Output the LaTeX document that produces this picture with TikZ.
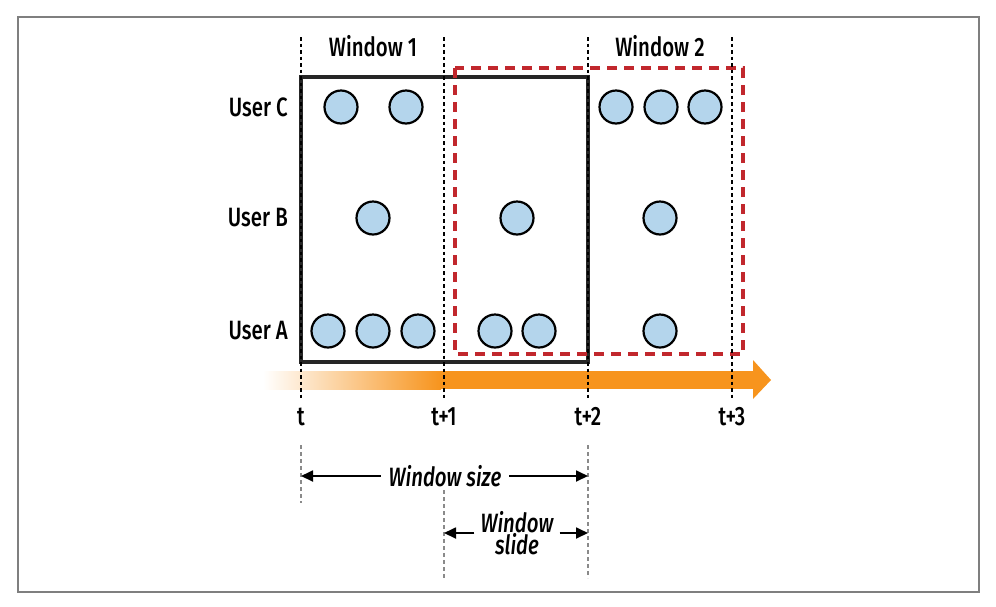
\documentclass[tikz,border=0pt]{standalone}
\usepackage{fontspec}
\setmainfont{Fira Sans Medium}[FakeStretch=0.77,ItalicFont={Fira Sans Medium Italic}]
\usetikzlibrary{arrows.meta}
\definecolor{evfill}{HTML}{B4D5EC}
\definecolor{winred}{HTML}{C1272D}
\definecolor{flow}{HTML}{F7941D}
\definecolor{framegrey}{HTML}{7F7F7F}
\definecolor{guidegrey}{HTML}{8A8A8A}
\begin{document}
\begin{tikzpicture}[x=1pt,y=-1pt,
  event/.style={circle,draw=black,fill=evfill,line width=2.2pt,minimum size=33pt,inner sep=0pt},
  lbl/.style={font=\fontsize{26.5}{28}\selectfont,inner sep=0pt},
  ilbl/.style={font=\fontsize{26.5}{22}\selectfont\itshape,inner sep=0pt,align=center},
  tick/.style={black,line width=2.6pt,dash pattern=on 3.5pt off 3pt},
  guide/.style={guidegrey,line width=1.2pt,dash pattern=on 4pt off 3pt},
  dim/.style={line width=1.8pt,-{Triangle[length=12pt,width=11pt]}}
]
\useasboundingbox (0,0) rectangle (996,606);
\draw[framegrey,line width=1.6pt] (18,17) rectangle (979,592);

% time flow arrow
\shade[left color=white,right color=flow] (263,371) rectangle (441,389);
\fill[flow] (440,371) rectangle (754,389);
\fill[flow] (753,360) -- (771,380) -- (753,399) -- cycle;

% windows
\draw[black!85,line width=4.5pt] (301,77) rectangle (588,362);
\draw[winred,line width=3.2pt,dash pattern=on 10pt off 7pt] (455,68) rectangle (743,354);

% tick lines
\foreach \x in {301,444,588,732} \draw[tick] (\x,37) -- (\x,398);
\draw[guide] (301,445) -- (301,503);
\draw[guide] (444,490) -- (444,578);
\draw[guide] (588,445) -- (588,578);

% window titles
\node[lbl] (w1) at (373,46) {Window 1};
\node[lbl] (w2) at (660,46) {Window 2};

% user labels
\node[lbl,anchor=east] (uc) at (288,107) {User C};
\node[lbl,anchor=east] (ub) at (288,218) {User B};
\node[lbl,anchor=east] (ua) at (288,331) {User A};

% events
\node[event] (c1) at (341,107) {};
\node[event] (c2) at (406,107) {};
\node[event] (c3) at (616,107) {};
\node[event] (c4) at (661,107) {};
\node[event] (c5) at (705,107) {};
\node[event] (b1) at (373,218) {};
\node[event] (b2) at (517,218) {};
\node[event] (b3) at (660,218) {};
\node[event] (a1) at (328,331) {};
\node[event] (a2) at (373,331) {};
\node[event] (a3) at (418,331) {};
\node[event] (a4) at (495,331) {};
\node[event] (a5) at (539,331) {};
\node[event] (a6) at (660,331) {};

% time labels
\node[lbl] (t0) at (301,417) {t};
\node[lbl] (t1) at (444,417) {t+1};
\node[lbl] (t2) at (588,417) {t+2};
\node[lbl] (t3) at (732,417) {t+3};

% window size
\coordinate (sz1) at (301,476);
\coordinate (sz2) at (588,476);
\node[ilbl,inner xsep=8pt] (wsz) at (445,476) {Window size};
\draw[dim] (wsz.west) -- (sz1);
\draw[dim] (wsz.east) -- (sz2);

% window slide
\coordinate (sl1) at (444,533);
\coordinate (sl2) at (588,533);
\node[ilbl,inner xsep=6pt] (wsl) at (517,533) {Window\\slide};
\draw[dim] (wsl.west) -- (sl1);
\draw[dim] (wsl.east) -- (sl2);
\end{tikzpicture}
\end{document}
